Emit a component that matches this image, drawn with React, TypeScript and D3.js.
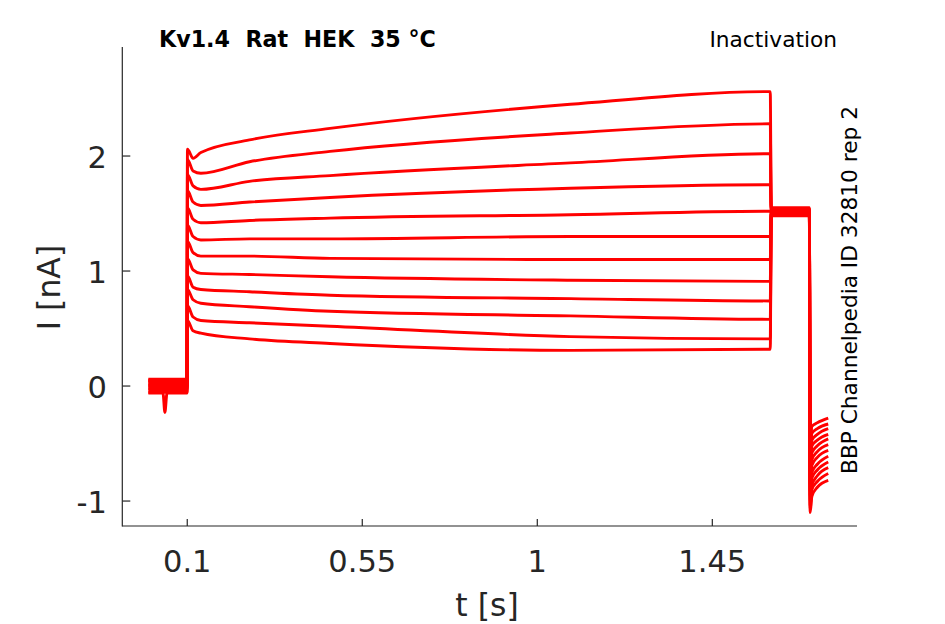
import * as d3 from 'd3';

// Kv1.4 inactivation protocol, 12 sweeps (top to bottom)
const xTicks = [0.1, 0.55, 1, 1.45];
const yTicks = [-1, 0, 1, 2];

// holding baseline before the pulse (nA), one per sweep
const holdTimes = [0, 0.0375, 0.0425, 0.048, 0.0995];
const holdLevels = [0.06, -0.055, 0.035, -0.025, 0.0, 0.05, -0.06, 0.02, -0.035, 0.01, -0.01, 0.045];
const dipSweep = 6;
const dipValue = -0.23;

// test pulse samples
const pulseTimes = [0.1005, 0.115, 0.135, 0.26, 0.467, 1.085, 1.599];
const pulse = [
  [2.06, 1.98, 2.03, 2.14, 2.24, 2.45, 2.56],
  [1.97, 1.87, 1.85, 1.95, 2.04, 2.2, 2.28],
  [1.84, 1.74, 1.71, 1.78, 1.83, 1.94, 2.02],
  [1.7, 1.6, 1.57, 1.6, 1.64, 1.72, 1.75],
  [1.55, 1.45, 1.42, 1.44, 1.46, 1.49, 1.52],
  [1.4, 1.3, 1.27, 1.28, 1.28, 1.3, 1.3],
  [1.26, 1.16, 1.13, 1.13, 1.11, 1.1, 1.1],
  [1.11, 1.01, 0.98, 0.97, 0.95, 0.92, 0.91],
  [0.96, 0.86, 0.84, 0.82, 0.79, 0.76, 0.74],
  [0.84, 0.75, 0.72, 0.69, 0.65, 0.61, 0.58],
  [0.7, 0.6, 0.57, 0.55, 0.52, 0.43, 0.41],
  [0.57, 0.48, 0.46, 0.41, 0.37, 0.31, 0.32],
];

// second step (common level)
const plateauTimes = [1.6015, 1.6995];
const plateau = [1.55, 1.54, 1.53, 1.52, 1.51, 1.5, 1.53, 1.49, 1.52, 1.48, 1.54, 1.5];

// tail currents
const tailTimes = [1.7015, 1.706, 1.72, 1.748];
const tails = [
  [-0.55, -0.35, -0.32, -0.28],
  [-0.62, -0.41, -0.37, -0.33],
  [-0.68, -0.47, -0.42, -0.37],
  [-0.74, -0.52, -0.47, -0.42],
  [-0.8, -0.58, -0.52, -0.46],
  [-0.86, -0.64, -0.57, -0.51],
  [-0.91, -0.69, -0.62, -0.56],
  [-0.96, -0.75, -0.68, -0.61],
  [-1.0, -0.8, -0.73, -0.66],
  [-1.04, -0.86, -0.78, -0.71],
  [-1.07, -0.9, -0.83, -0.76],
  [-1.1, -0.96, -0.88, -0.82],
];

const W = 945;
const H = 624;
const axisColor = '#262626';
const font = '"DejaVu Sans", sans-serif';

export default function App() {
  const x = d3.scaleLinear().domain([-0.067, 1.822]).range([122.3, 857]);
  const y = d3.scaleLinear().domain([-1.217, 2.948]).range([526, 47]);

  const line = d3
    .line<[number, number]>()
    .x(d => x(d[0]))
    .y(d => y(d[1]))
    .curve(d3.curveMonotoneX);

  const sweeps = pulse.map((vals, i) => {
    const pts: [number, number][] = [];
    holdTimes.forEach((t, k) => {
      const v = k === 2 && i === dipSweep ? dipValue : holdLevels[i];
      pts.push([t, v]);
    });
    pulseTimes.forEach((t, k) => pts.push([t, vals[k]]));
    plateauTimes.forEach(t => pts.push([t, plateau[i]]));
    tailTimes.forEach((t, k) => pts.push([t, tails[i][k]]));
    return pts;
  });

  const [x0, x1] = x.range();
  const [y0, y1] = y.range();

  return (
    <svg
      width={W}
      height={H}
      style={{ position: 'fixed', left: 0, top: 0, background: '#fff' }}
      fontFamily={font}
    >
      <rect width={W} height={H} fill="#fff" />

      {/* traces */}
      <g fill="none" stroke="#ff0000" strokeWidth={2.9} strokeLinejoin="round">
        {sweeps.map((pts, i) => (
          <path key={i} d={line(pts) ?? ''} />
        ))}
      </g>

      {/* axes */}
      <g stroke={axisColor} strokeWidth={1.2} fill="none">
        <line x1={x0} x2={x0} y1={y0 + 0.6} y2={y1} />
        <line x1={x0} x2={x1} y1={y0} y2={y0} />
        {xTicks.map(t => (
          <line key={t} x1={x(t)} x2={x(t)} y1={y0} y2={y0 - 7} />
        ))}
        {yTicks.map(t => (
          <line key={t} x1={x0} x2={x0 + 8} y1={y(t)} y2={y(t)} />
        ))}
      </g>

      <g fill={axisColor} fontSize={30.5}>
        {xTicks.map(t => (
          <text key={t} x={x(t)} y={572} textAnchor="middle">
            {String(t)}
          </text>
        ))}
        {yTicks.map(t => (
          <text key={t} x={107} y={y(t) + 11.5} textAnchor="end">
            {String(t)}
          </text>
        ))}
      </g>

      <text x={487} y={616} textAnchor="middle" fontSize={31.5} fill={axisColor}>
        t [s]
      </text>
      <text
        transform={`translate(60, ${287.5}) rotate(-90)`}
        textAnchor="middle"
        fontSize={31.5}
        fill={axisColor}
      >
        I [nA]
      </text>

      <text x={159} y={46.5} fontSize={22.2} fontWeight="bold" fill="#000" xmlSpace="preserve">
        Kv1.4  Rat  HEK  35 °C
      </text>
      <text x={837} y={46.5} fontSize={21.7} textAnchor="end" fill="#000">
        Inactivation
      </text>
      <text
        transform="translate(857, 474) rotate(-90)"
        fontSize={21.7}
        fill="#000"
      >
        BBP Channelpedia ID 32810 rep 2
      </text>
    </svg>
  );
}
